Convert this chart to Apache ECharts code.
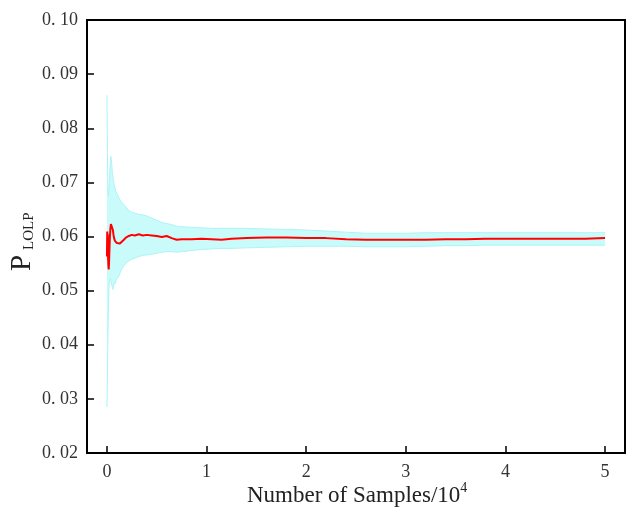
<!DOCTYPE html>
<html>
<head>
<meta charset="utf-8">
<script src="https://cdn.jsdelivr.net/npm/echarts@6/dist/echarts.min.js"></script>
<style>
  html, body { margin: 0; padding: 0; background: #fff; }
  #main { width: 635px; height: 529px; }
</style>
</head>
<body>
<div id="main"></div>
<script>
// samples (x10^4)
let xs = [0.000, 0.003, 0.006, 0.009, 0.012, 0.015, 0.018, 0.021, 0.025, 0.030,
  0.035, 0.040, 0.045, 0.050, 0.055, 0.060, 0.066, 0.072, 0.080, 0.090,
  0.100, 0.115, 0.130, 0.150, 0.170, 0.190, 0.22, 0.25, 0.28, 0.32,
  0.36, 0.40, 0.45, 0.50, 0.55, 0.60, 0.65, 0.70, 0.75, 0.85,
  0.95, 1.05, 1.15, 1.25, 1.4, 1.6, 1.8, 2.0, 2.2, 2.4,
  2.6, 2.8, 3.0, 3.2, 3.4, 3.6, 3.8, 4.0, 4.2, 4.4,
  4.6, 4.8, 5.0]
// LOLP estimate
let pMean = [0.0563, 0.0609, 0.0572, 0.0604, 0.0558, 0.0545, 0.0539, 0.0550, 0.0575, 0.0600,
  0.0615, 0.0623, 0.0626, 0.0625, 0.0620, 0.0612, 0.0603, 0.0597, 0.0592, 0.0590,
  0.0588, 0.0586, 0.0587, 0.0590, 0.0594, 0.0598, 0.0601, 0.0603, 0.0602, 0.0604,
  0.0602, 0.0603, 0.0602, 0.0601, 0.0599, 0.0601, 0.0597, 0.0594, 0.0595, 0.0595,
  0.0596, 0.0595, 0.0594, 0.0596, 0.0597, 0.0598, 0.0598, 0.0597, 0.0597, 0.0595,
  0.0594, 0.0594, 0.0594, 0.0594, 0.0595, 0.0595, 0.0596, 0.0596, 0.0596, 0.0596,
  0.0596, 0.0596, 0.0597]
// confidence band
let ciHigh = [0.0861, 0.0800, 0.0740, 0.0700, 0.0680, 0.0675, 0.0680, 0.0690, 0.0705, 0.0725,
  0.0740, 0.0748, 0.0742, 0.0730, 0.0718, 0.0710, 0.0703, 0.0696, 0.0690, 0.0684,
  0.0680, 0.0674, 0.0668, 0.0663, 0.0659, 0.0655, 0.0648, 0.0645, 0.0643, 0.0641,
  0.0640, 0.0638, 0.0634, 0.0630, 0.0626, 0.0624, 0.0622, 0.0619, 0.0618, 0.0617,
  0.0616, 0.0615, 0.0615, 0.0615, 0.0615, 0.0614, 0.0613, 0.0612, 0.0610, 0.0608,
  0.0606, 0.0606, 0.0606, 0.0607, 0.0607, 0.0607, 0.0607, 0.0607, 0.0607, 0.0607,
  0.0607, 0.0607, 0.0607]
let ciLow = [0.0285, 0.0320, 0.0360, 0.0400, 0.0435, 0.0465, 0.0490, 0.0505, 0.0515, 0.0520,
  0.0522, 0.0518, 0.0512, 0.0510, 0.0505, 0.0502, 0.0508, 0.0513, 0.0512, 0.0518,
  0.0522, 0.0525, 0.0532, 0.0540, 0.0546, 0.0550, 0.0555, 0.0558, 0.0560, 0.0563,
  0.0565, 0.0566, 0.0567, 0.0569, 0.0571, 0.0572, 0.0572, 0.0571, 0.0572, 0.0574,
  0.0576, 0.0577, 0.0578, 0.0578, 0.0579, 0.0580, 0.0581, 0.0582, 0.0582, 0.0582,
  0.0581, 0.0581, 0.0581, 0.0582, 0.0583, 0.0583, 0.0584, 0.0584, 0.0584, 0.0584,
  0.0584, 0.0584, 0.0584]
let xTicks = [0, 1, 2, 3, 4, 5]

let font = 'Liberation Serif'
let bandData = []
let meanData = []
for (let i = 0; i < xs.length; i++) {
  bandData.push([xs[i], ciLow[i], ciHigh[i]])
  meanData.push([xs[i], pMean[i]])
}

// band polygon: upper edge forward, lower edge back
function renderBand(params, api) {
  if (params.dataIndex !== 0) return
  let up = []
  let down = []
  for (let i = 0; i < bandData.length; i++) {
    up.push(api.coord([bandData[i][0], bandData[i][2]]))
    down.push(api.coord([bandData[i][0], bandData[i][1]]))
  }
  let pts = up.concat(down.slice().reverse())
  return {
    type: 'group',
    children: [
      { type: 'polygon', shape: { points: pts }, style: { fill: '#c9fbfb', stroke: null } },
      { type: 'polyline', shape: { points: up }, style: { fill: null, stroke: '#aef3f6', lineWidth: 1 } },
      { type: 'polyline', shape: { points: down }, style: { fill: null, stroke: '#aef3f6', lineWidth: 1 } }
    ]
  }
}

let chart = echarts.init(document.getElementById('main'))
let option = {
  animation: false,
  grid: {
    left: 87, top: 20, right: 10, bottom: 76,
    show: true, borderColor: '#000', borderWidth: 2
  },
  xAxis: {
    type: 'value',
    min: -0.2,
    max: 5.2,
    splitLine: { show: false },
    axisLine: { onZero: false, lineStyle: { color: '#000', width: 2 } },
    axisTick: { inside: true, length: 7, customValues: xTicks, lineStyle: { color: '#000', width: 1.5 } },
    axisLabel: { customValues: xTicks, margin: 10, color: '#333', fontFamily: font, fontSize: 18 }
  },
  yAxis: {
    type: 'value',
    min: 0.02,
    max: 0.10,
    interval: 0.01,
    splitLine: { show: false },
    axisLine: { show: true, onZero: false, lineStyle: { color: '#000', width: 2 } },
    axisTick: { inside: true, length: 7, lineStyle: { color: '#000', width: 1.5 } },
    axisLabel: {
      margin: 9, color: '#333', fontFamily: font, fontSize: 18,
      formatter: function (v) { return v.toFixed(2).replace('.', '. ') }
    }
  },
  graphic: [
    {
      type: 'text', left: 247, top: 481,
      style: {
        text: '{a|Number of Samples/10}{b|4}',
        rich: {
          a: { fontFamily: font, fontSize: 23, fill: '#222', verticalAlign: 'bottom', lineHeight: 26 },
          b: { fontFamily: font, fontSize: 14, fill: '#222', verticalAlign: 'top', lineHeight: 26 }
        }
      }
    },
    {
      type: 'group', x: 8, y: 271, rotation: Math.PI / 2,
      children: [
        { type: 'text', x: 0, y: 0, style: { text: 'P', fontFamily: font, fontSize: 29, fill: '#222' } },
        { type: 'text', x: 21, y: 14, style: { text: 'LOLP', fontFamily: font, fontSize: 15, fill: '#222' } }
      ]
    }
  ],
  series: [
    {
      name: 'band', type: 'custom', data: bandData,
      renderItem: renderBand, silent: true, z: 1
    },
    {
      name: 'mean', type: 'line', data: meanData, z: 2,
      symbol: 'none', lineStyle: { color: '#ff0000', width: 2 }
    }
  ]
}
chart.setOption(option)
</script>
</body>
</html>
